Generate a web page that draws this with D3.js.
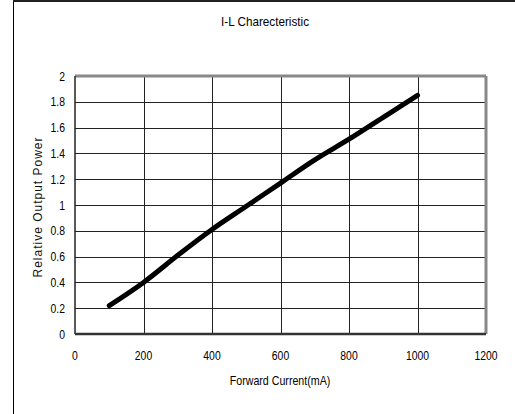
<!DOCTYPE html>
<html>
<head>
<meta charset="utf-8">
<script src="https://cdn.jsdelivr.net/npm/d3@7"></script>
<style>
  body { margin: 0; background: #fff; }
  text { font-family: "Liberation Sans", Arial, sans-serif; fill: #000; }
</style>
</head>
<body>
<div id="chart"></div>
<script>
// I-L curve
var currents = [100, 200, 300, 400, 500, 600, 700, 800, 900, 1000];
var power    = [0.22, 0.40, 0.61, 0.81, 0.99, 1.17, 1.35, 1.51, 1.68, 1.85];
var xTicks = [0, 200, 400, 600, 800, 1000, 1200];
var yTicks = [0, 0.2, 0.4, 0.6, 0.8, 1, 1.2, 1.4, 1.6, 1.8, 2];

var chartWidth = 515, chartHeight = 414;
var margin = {top: 76, right: 29, bottom: 80, left: 75},
    width  = chartWidth - margin.left - margin.right,
    height = chartHeight - margin.top - margin.bottom;

var svg = d3.select("#chart").append("svg")
    .attr("width", chartWidth)
    .attr("height", chartHeight);

// narrow gothic-ish look: squeeze the text horizontally
function narrowText(parent, px, py, str, anchor, sx) {
  return parent.append("text")
      .attr("transform", "translate(" + px + "," + py + ") scale(" + (sx || 0.8) + ",1)")
      .attr("text-anchor", anchor)
      .style("font-size", "13px")
      .text(str);
}

// outer frame (top and left edge only visible)
svg.append("line").attr("x1", 13.5).attr("x2", 13.5).attr("y1", 0).attr("y2", chartHeight)
    .attr("stroke", "#000").attr("stroke-width", 1);
svg.append("line").attr("x1", 13).attr("x2", chartWidth).attr("y1", 1).attr("y2", 1)
    .attr("stroke", "#222").attr("stroke-width", 2);

narrowText(svg, 265, 26, "I-L Charecteristic", "middle", 0.9);

var g = svg.append("g")
    .attr("transform", "translate(" + margin.left + "," + margin.top + ")");

var x = d3.scaleLinear().domain([0, 1200]).range([0, width]);
var y = d3.scaleLinear().domain([0, 2]).range([height, 0]);

// grid
g.selectAll(".vgrid").data(xTicks.slice(1, -1)).enter().append("line")
    .attr("x1", function(d) { return Math.round(x(d)) + 0.5; })
    .attr("x2", function(d) { return Math.round(x(d)) + 0.5; })
    .attr("y1", 0).attr("y2", height)
    .attr("stroke", "#222").attr("stroke-width", 1);
g.selectAll(".hgrid").data(yTicks.slice(1, -1)).enter().append("line")
    .attr("y1", function(d) { return Math.round(y(d)) + 0.5; })
    .attr("y2", function(d) { return Math.round(y(d)) + 0.5; })
    .attr("x1", 0).attr("x2", width)
    .attr("stroke", "#222").attr("stroke-width", 1);

// plot frame: grey top/right, dark left/bottom
g.append("line").attr("x1", 0).attr("x2", width).attr("y1", 0).attr("y2", 0)
    .attr("stroke", "#888").attr("stroke-width", 3);
g.append("line").attr("x1", width).attr("x2", width).attr("y1", 0).attr("y2", height)
    .attr("stroke", "#888").attr("stroke-width", 3);
g.append("line").attr("x1", 0).attr("x2", 0).attr("y1", 0).attr("y2", height)
    .attr("stroke", "#222").attr("stroke-width", 1.5);
g.append("line").attr("x1", 0).attr("x2", width).attr("y1", height).attr("y2", height)
    .attr("stroke", "#333").attr("stroke-width", 2.5);

// tick labels
yTicks.forEach(function(d) {
  narrowText(g, -10, y(d) + 4.5, d, "end");
});
xTicks.forEach(function(d) {
  narrowText(g, x(d), height + 26, d, "middle");
});

// axis titles
narrowText(g, 205, height + 51, "Forward Current(mA)", "middle", 0.82);
g.append("text")
    .attr("transform", "translate(" + (-33) + "," + (207 - margin.top) + ") rotate(-90)")
    .attr("text-anchor", "middle")
    .style("font-size", "12px")
    .style("letter-spacing", "1px")
    .style("fill", "#111")
    .text("Relative Output Power");

var line = d3.line()
    .x(function(d, i) { return x(currents[i]); })
    .y(function(d) { return y(d); })
    .curve(d3.curveMonotoneX);

g.append("path")
    .datum(power)
    .attr("fill", "none")
    .attr("stroke", "#000")
    .attr("stroke-width", 5)
    .attr("stroke-linecap", "round")
    .attr("stroke-linejoin", "round")
    .attr("d", line);
</script>
</body>
</html>
